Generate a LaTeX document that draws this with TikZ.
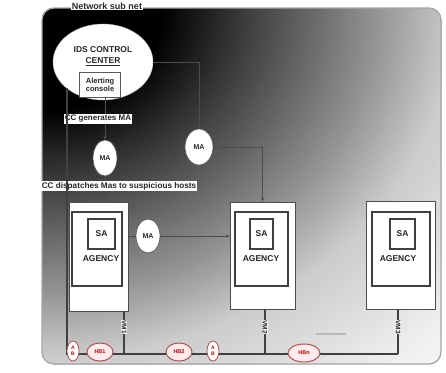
\documentclass[tikz,border=0pt]{standalone}
\usepackage{fontspec}
\setmainfont{Liberation Sans}
\usetikzlibrary{shapes.geometric,arrows.meta}
\begin{document}
\begin{tikzpicture}[x=1pt,y=-1pt,
  font=\fontsize{8}{9}\selectfont\bfseries,
  every node/.style={text=black!85},
  conn/.style={draw=black!70, line width=0.8},
  arr/.style={conn, -{Stealth[length=4pt,width=3.5pt]}},
  lbl/.style={fill=white, inner sep=1pt},
  maell/.style={ellipse, draw=gray!70!black, line width=0.7, fill=white, inner sep=0pt, font=\fontsize{7}{8}\selectfont\bfseries},
  agout/.style={draw=gray!60!black, line width=0.8, fill=white, inner sep=0pt},
  agin/.style={draw=gray!50!black, line width=1.1, fill=white, inner sep=0pt},
  sabox/.style={draw=gray!50!black, line width=1.1, fill=white, inner sep=0pt, font=\fontsize{8.5}{9}\selectfont\bfseries},
  agtxt/.style={font=\fontsize{8.5}{9}\selectfont\bfseries},
  vmlbl/.style={rotate=-90, fill=gray!12, inner sep=0.5pt, font=\fontsize{6.5}{7}\selectfont\bfseries},
  hbell/.style={ellipse, draw=red!35!gray, line width=1, fill=red!8, inner sep=0pt, text=red!75!black, font=\fontsize{5.5}{6}\selectfont\bfseries},
  abell/.style={ellipse, draw=red!35!gray, line width=0.8, fill=white, inner sep=0pt, minimum width=12, minimum height=20, text=red!75!black, font=\fontsize{5}{5.5}\selectfont\bfseries, align=center}]
\useasboundingbox (0,0) rectangle (446,372);
% background: radial gradient from the top-left corner
\begin{scope}
  \clip[rounded corners=12] (42,8) rectangle (441,364);
  \fill[white] (42,8) rectangle (441,364);
  \foreach \i in {0,...,112} {
    \pgfmathsetmacro\r{560-4.4*\i}
    \pgfmathsetmacro\g{\r<110 ? 0 : (\r<185 ? 0.24*(\r-110)/75 : (\r<305 ? 0.24+0.35*(\r-185)/120 : (\r<370 ? 0.59+0.21*(\r-305)/65 : (\r<490 ? 0.8+0.14*(\r-370)/120 : min(0.98,0.94+0.04*(\r-490)/50)))))}
    \definecolor{bgcur}{gray}{\g}
    \fill[bgcur] (42,8) ellipse [x radius=1.12*\r pt, y radius=0.95*\r pt];
  }
\end{scope}
\draw[gray!70, line width=1.3, rounded corners=12] (42,8) rectangle (441,364);
\node[lbl, font=\fontsize{9}{10}\selectfont\bfseries] (net) at (107,6) {Network sub net};
% control center
\node[ellipse, draw=gray!60, fill=white, minimum width=100, minimum height=76, inner sep=0pt] (cc) at (103,62) {};
\node[font=\fontsize{8.5}{9}\selectfont\bfseries] (idst) at (103,50) {IDS CONTROL};
\node[font=\fontsize{8.5}{9}\selectfont\bfseries] (cent) at (103,62) {\underline{CENTER}};
\node[draw=gray!70!black, line width=0.9, fill=white, minimum width=41, minimum height=25, align=center, inner sep=1pt, font=\fontsize{7.5}{8.5}\selectfont\bfseries] (alert) at (100,85) {Alerting\\console};
% labels
\node[lbl] (gen) at (98,119) {CC generates MA};
\node[lbl, font=\fontsize{8.2}{9}\selectfont\bfseries] (disp) at (119,186) {CC dispatches Mas to suspicious hosts};
% MA ellipses
\node[maell, minimum width=24, minimum height=36] (ma1) at (105,158) {MA};
\node[maell, minimum width=28, minimum height=36] (ma2) at (199,147) {MA};
\node[maell, minimum width=24, minimum height=34] (ma3) at (148,236) {MA};
% agencies
\node[agout, minimum width=59, minimum height=109] (ag1) at (98.5,256.5) {};
\node[agin, minimum width=50, minimum height=74] (in1) at (97,249) {};
\node[sabox, minimum width=27, minimum height=30] (sa1) at (101.5,234) {SA};
\node[agtxt] (agt1) at (101,259) {AGENCY};
\node[agout, minimum width=65, minimum height=107] (ag2) at (262.5,255.5) {};
\node[agin, minimum width=53, minimum height=74] (in2) at (261.5,249) {};
\node[sabox, minimum width=23, minimum height=30] (sa2) at (261.5,234) {SA};
\node[agtxt] (agt2) at (261,259) {AGENCY};
\node[agout, minimum width=69, minimum height=108] (ag3) at (400.5,255) {};
\node[agin, minimum width=58, minimum height=74] (in3) at (401,249) {};
\node[sabox, minimum width=25, minimum height=30] (sa3) at (402.5,234) {SA};
\node[agtxt] (agt3) at (398,259) {AGENCY};
% connectors from the control center
\coordinate (ccl) at (67,88);
\coordinate (busL) at (67,354);
\coordinate (busR) at (398,354);
\draw[conn] (alert.south -| ma1) -- (gen.north -| ma1);
\draw[arr] (gen.south -| ma1) -- (ma1.north);
\draw[conn] (ma1.south) -- (disp.north -| ma1);
\draw[arr] (disp.south -| ma1) -- (ag1.north -| ma1);
\draw[conn] (cc.east) -| (ma2.north);
\draw[arr] (ma2.east) -| (ag2.north);
\draw[conn] (ag1.east |- ma3) -- (ma3.west);
\draw[arr] (ma3.east) -- (ag2.west |- ma3);
% bus
\draw[conn, draw=gray!50!black, line width=1.1] (ccl) -- (busL) -- (busR);
\draw[conn, draw=gray!50!black, line width=1.1] (ag1.south -| 124,0) -- (124,354);
\draw[conn, draw=gray!50!black, line width=1.1] (ag2.south -| 265,0) -- (265,354);
\draw[conn, draw=gray!50!black, line width=1.1] (ag3.south -| busR) -- (busR);
\node[vmlbl] (vm1) at (124,327) {VM1};
\node[vmlbl] (vm2) at (265,327) {VM2};
\node[vmlbl] (vm3) at (398,327) {VM3};
\node[abell] (a1) at (73,351) {A\\B};
\node[abell] (a2) at (213,351) {A\\B};
\node[hbell, minimum width=26, minimum height=18] (hb1) at (100,352) {HB1};
\node[hbell, minimum width=26, minimum height=18] (hb2) at (179,352) {HB2};
\node[hbell, minimum width=32, minimum height=18] (hbn) at (304,353) {HBn};
\draw[gray!55, line width=1.5] (316,334) -- (346,334);
\end{tikzpicture}
\end{document}
